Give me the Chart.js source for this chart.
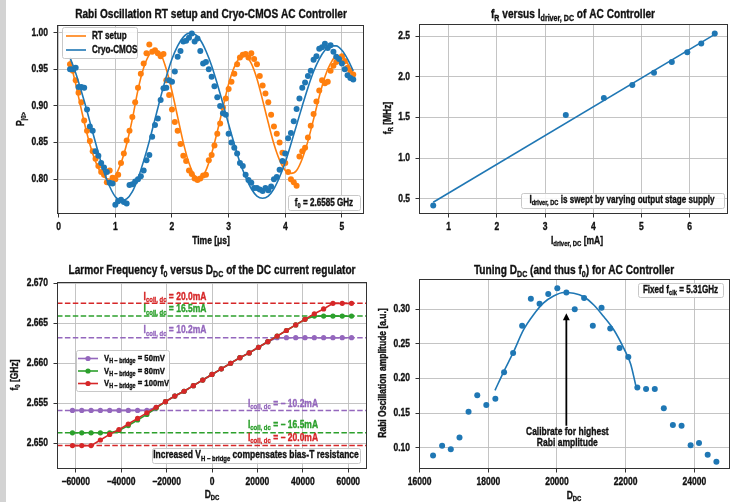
<!DOCTYPE html>
<html lang="en">
<head>
<meta charset="UTF-8" />
<title>Cryo-CMOS AC / DC controller characterisation</title>
<script src="https://cdn.jsdelivr.net/npm/chart.js"></script>
<style>
  body { margin: 0; background: #fff; }
  #wrap { position: relative; width: 733px; height: 502px; overflow: hidden; background: #fff; }
  #wrap canvas { position: absolute; left: 0; top: 0; }
  #strip { position: absolute; left: 0; top: 0; width: 6px; height: 502px; background: #d3d3d3; }
</style>
</head>
<body>
<div id="wrap">
  <div id="strip"></div>
  <canvas id="rabi" width="733" height="502"></canvas>
  <canvas id="freqR" width="733" height="502"></canvas>
  <canvas id="larmor" width="733" height="502"></canvas>
  <canvas id="tuning" width="733" height="502"></canvas>
</div>
<script>
// ---- panel 1: Rabi oscillation ----
const rabiTime = [0.20,0.25,0.30,0.35,0.40,0.45,0.50,0.55,0.60,0.65,0.70,0.75,0.80,0.85,0.90,0.95,1.00,1.05,1.10,1.15,
  1.20,1.25,1.30,1.35,1.40,1.45,1.50,1.55,1.60,1.65,1.70,1.75,1.80,1.85,1.90,1.95,2.00,2.05,2.10,2.15,
  2.20,2.25,2.30,2.35,2.40,2.45,2.50,2.55,2.60,2.65,2.70,2.75,2.80,2.85,2.90,2.95,3.00,3.05,3.10,3.15,
  3.20,3.25,3.30,3.35,3.40,3.45,3.50,3.55,3.60,3.65,3.70,3.75,3.80,3.85,3.90,3.95,4.00,4.05,4.10,4.15,
  4.20,4.25,4.30,4.35,4.40,4.45,4.50,4.55,4.60,4.65,4.70,4.75,4.80,4.85,4.90,4.95,5.00,5.05,5.10,5.15,5.20];
const rtSetup = [0.957,0.948,0.935,0.918,0.905,0.880,0.866,0.852,0.838,0.828,
  0.818,0.810,0.806,0.796,0.812,0.802,0.800,0.806,0.822,0.835,
  0.853,0.866,0.885,0.905,0.925,0.944,0.958,0.972,0.984,0.974,
  0.976,0.972,0.968,0.971,0.935,0.915,0.895,0.878,0.866,0.848,
  0.832,0.825,0.812,0.807,0.801,0.799,0.801,0.805,0.806,0.826,
  0.833,0.846,0.862,0.876,0.898,0.910,0.923,0.933,0.944,0.957,
  0.966,0.970,0.971,0.966,0.972,0.964,0.957,0.941,0.928,0.917,
  0.905,0.888,0.872,0.862,0.850,0.836,0.822,0.810,0.800,0.796,
  0.791,0.831,0.838,0.843,0.857,0.873,0.889,0.906,0.921,0.935,
  0.931,0.933,0.948,0.955,0.960,0.963,0.968,0.961,0.952,0.948,0.943];
const cryoCmos = [0.950,0.950,0.952,0.926,0.926,0.925,0.895,0.872,0.866,0.838,
  0.832,0.822,0.816,0.810,0.795,0.794,0.765,0.770,0.772,0.769,
  0.767,0.792,0.793,0.797,0.800,0.804,0.812,0.826,0.833,0.858,
  0.874,0.883,0.908,0.924,0.925,0.935,0.933,0.947,0.967,0.975,
  0.988,0.989,0.993,0.999,0.988,0.992,0.975,0.958,0.960,0.950,
  0.940,0.927,0.912,0.900,0.890,0.888,0.862,0.850,0.843,0.835,
  0.822,0.818,0.806,0.799,0.795,0.788,0.788,0.786,0.784,0.788,
  0.785,0.790,0.800,0.803,0.813,0.825,0.835,0.856,0.863,0.879,
  0.896,0.910,0.925,0.932,0.941,0.948,0.963,0.968,0.978,0.980,
  0.985,0.979,0.983,0.974,0.967,0.964,0.958,0.950,0.942,0.938,0.936];
const fitTime = [0.2,0.3,0.4,0.5,0.6,0.7,0.8,0.9,1.0,1.1,1.2,1.3,1.4,1.5,1.6,1.7,1.8,1.9,2.0,2.1,
  2.2,2.3,2.4,2.5,2.6,2.7,2.8,2.9,3.0,3.1,3.2,3.3,3.4,3.5,3.6,3.7,3.8,3.9,4.0,4.1,
  4.2,4.3,4.4,4.5,4.6,4.7,4.8,4.9,5.0,5.1,5.2];
const rtFit = [0.962,0.930,0.895,0.862,0.835,0.815,0.803,0.800,0.805,0.822,0.848,0.882,0.922,0.952,0.970,0.976,0.971,0.950,0.920,0.885,
  0.850,0.822,0.805,0.802,0.812,0.835,0.865,0.898,0.930,0.953,0.966,0.968,0.958,0.937,0.908,0.877,0.848,0.826,0.812,0.808,
  0.812,0.828,0.852,0.882,0.913,0.940,0.958,0.968,0.968,0.958,0.940];
const cryoFit = [0.966,0.945,0.920,0.893,0.864,0.836,0.810,0.790,0.776,0.771,0.773,0.783,0.801,0.825,0.852,0.882,0.912,0.940,0.964,0.982,
  0.994,0.999,0.998,0.990,0.975,0.955,0.930,0.903,0.875,0.848,0.823,0.803,0.787,0.777,0.774,0.777,0.787,0.803,0.823,0.848,
  0.874,0.900,0.925,0.947,0.964,0.976,0.982,0.982,0.976,0.964,0.948];
const rabiXTicks = [0, 1, 2, 3, 4, 5];
const rabiYTicks = [0.80, 0.85, 0.90, 0.95, 1.00];

// ---- panel 2: f_R versus I_driver ----
const iDriver = [0.68, 3.43, 4.22, 4.81, 5.26, 5.63, 5.95, 6.24, 6.52];
const fR = [0.42, 1.53, 1.74, 1.90, 2.05, 2.18, 2.30, 2.41, 2.53];
const fitI = [0.68, 6.52];
const fitFR = [0.46, 2.52];
const freqXTicks = [1, 2, 3, 4, 5, 6];
const freqYTicks = [0.5, 1.0, 1.5, 2.0, 2.5];

// ---- panel 3: Larmor frequency versus D_DC ----
const dDC = [-61440,-57344,-53248,-49152,-45056,-40960,-36864,-32768,-28672,-24576,-20480,-16384,-12288,-8192,-4096,
  0,4096,8192,12288,16384,20480,24576,28672,32768,36864,40960,45056,49152,53248,57344,61440];
const f0_100mV = [2.6497,2.6497,2.6497,2.6504,2.6511,2.6517,2.6524,2.6531,2.6538,2.6545,2.6552,2.6559,2.6565,2.6572,2.6579,
  2.6586,2.6593,2.6600,2.6607,2.6613,2.6620,2.6627,2.6634,2.6641,2.6648,2.6655,2.6662,2.6668,2.6675,2.6675,2.6675];
const f0_80mV = [2.6513,2.6513,2.6513,2.6513,2.6513,2.6516,2.6522,2.6529,2.6536,2.6544,2.6552,2.6559,2.6565,2.6572,2.6579,
  2.6586,2.6593,2.6600,2.6607,2.6613,2.6620,2.6627,2.6634,2.6641,2.6648,2.6655,2.6659,2.6659,2.6659,2.6659,2.6659];
const f0_50mV = [2.6541,2.6541,2.6541,2.6541,2.6541,2.6541,2.6541,2.6541,2.6541,2.6545,2.6552,2.6559,2.6565,2.6572,2.6579,
  2.6586,2.6593,2.6600,2.6607,2.6613,2.6620,2.6627,2.6632,2.6632,2.6632,2.6632,2.6632,2.6632,2.6632,2.6632,2.6632];
const coilLevels = [2.6675, 2.6659, 2.6632, 2.6541, 2.6513, 2.6497];
const coilLabels = ['20.0mA', '16.5mA', '10.2mA', '\u2212 10.2mA', '\u2212 16.5mA', '\u2212 20.0mA'];
const larmorXRange = [-68250, 68250];
const larmorXTicks = [-60000, -40000, -20000, 0, 20000, 40000, 60000];
const larmorYTicks = [2.650, 2.655, 2.660, 2.665, 2.670];

// ---- panel 4: tuning D_DC ----
const tuneD = [16390,16654,16907,17161,17424,17678,17941,18205,18459,18722,18985,19239,19493,19746,20010,20273,20517,
  20790,21044,21298,21551,21824,22078,22341,22595,22849,23112,23376,23629,23893,24137,24390,24644];
const rabiAmp = [0.089,0.103,0.098,0.115,0.152,0.176,0.162,0.171,0.209,0.237,0.276,0.315,0.308,0.322,0.330,0.324,0.300,
  0.316,0.276,0.302,0.272,0.244,0.231,0.187,0.185,0.185,0.157,0.133,0.132,0.104,0.107,0.090,0.080];
const tuneFitD = [18195,18439,18731,19024,19317,19610,19902,20195,20488,20780,21073,21366,21659,21951,22146,22300];
const tuneFitAmp = [0.183,0.209,0.238,0.270,0.292,0.309,0.319,0.324,0.323,0.318,0.306,0.289,0.270,0.243,0.221,0.189];
const arrowD = 20273, arrowFrom = 0.132, arrowTo = 0.294;
const tuneXTicks = [16000, 18000, 20000, 22000, 24000];
const tuneYTicks = [0.10, 0.15, 0.20, 0.25, 0.30];

// ---- styling ----
const FONT = '"Liberation Sans", Arial, sans-serif';
const SX = 0.81;              // horizontal squeeze -> narrow bold look
const BLUE = '#1f77b4', ORANGE = '#ff7f0e', GREEN = '#2ca02c', RED = '#d62728', PURPLE = '#9467bd';
const TXT = '#111';
Chart.defaults.font.family = FONT;
Chart.defaults.animation = false;

const zip = (xs, ys) => xs.map((x, i) => ({ x, y: ys[i] }));
const fmt = dec => v => (v < 0 ? '\u2212' : '') + Math.abs(v).toFixed(dec);

function scale(min, max, ticks, size, horizontal) {
  return {
    type: 'linear', min, max,
    afterBuildTicks: s => { s.ticks = ticks.map(v => ({ value: v })); },
    afterFit: s => { if (horizontal) s.height = size; else s.width = size; },
    ticks: { display: false },
    grid: { color: '#bdbdbd', lineWidth: 0.9, tickLength: 3.5, tickColor: '#333', tickWidth: 1 },
    border: { display: false }
  };
}

// text with _{subscript} markup
function parts(str) {
  const out = [], re = /_\{([^}]*)\}/g;
  let last = 0, m;
  while ((m = re.exec(str))) {
    if (m.index > last) out.push({ t: str.slice(last, m.index) });
    out.push({ t: m[1], sub: true });
    last = re.lastIndex;
  }
  if (last < str.length) out.push({ t: str.slice(last) });
  return out;
}
function text(ctx, str, x, y, size, color, align, rot) {
  const ps = parts(str);
  ctx.save();
  ctx.translate(x, y);
  if (rot) ctx.rotate(rot);
  ctx.scale(SX, 1);
  ctx.fillStyle = color || TXT;
  ctx.strokeStyle = color || TXT;
  ctx.lineWidth = 0.35;
  ctx.textBaseline = 'middle';
  ctx.textAlign = 'left';
  let w = 0;
  ps.forEach(p => { ctx.font = `bold ${p.sub ? size * 0.7 : size}px ${FONT}`; w += ctx.measureText(p.t).width; });
  let cx = align === 'left' ? 0 : align === 'right' ? -w : -w / 2;
  ps.forEach(p => {
    ctx.font = `bold ${p.sub ? size * 0.7 : size}px ${FONT}`;
    const dy = p.sub ? size * 0.3 : 0;
    ctx.fillText(p.t, cx, dy);
    ctx.strokeText(p.t, cx, dy);
    cx += ctx.measureText(p.t).width;
  });
  ctx.restore();
}
function box(ctx, x, y, w, h) {
  ctx.save();
  ctx.fillStyle = 'rgba(255,255,255,0.85)';
  ctx.strokeStyle = '#c8c8c8';
  ctx.lineWidth = 1;
  ctx.beginPath();
  if (ctx.roundRect) ctx.roundRect(x + 0.5, y + 0.5, w, h, 2); else ctx.rect(x + 0.5, y + 0.5, w, h);
  ctx.fill(); ctx.stroke();
  ctx.restore();
}
function legendLine(ctx, x, y, color, marker) {
  ctx.save();
  ctx.strokeStyle = color; ctx.lineWidth = 1.6;
  ctx.beginPath(); ctx.moveTo(x, y); ctx.lineTo(x + 20, y); ctx.stroke();
  if (marker) { ctx.fillStyle = color; ctx.beginPath(); ctx.arc(x + 10, y, 2.6, 0, Math.PI * 2); ctx.fill(); }
  ctx.restore();
}
function frame(ctx, a) {
  ctx.save();
  ctx.strokeStyle = '#333'; ctx.lineWidth = 1;
  ctx.strokeRect(Math.round(a.left) + 0.5, Math.round(a.top) + 0.5, Math.round(a.right - a.left) - 1, Math.round(a.bottom - a.top) - 1);
  ctx.restore();
}
// tick labels drawn through the chart's own scales
function tickLabels(ctx, chart, xt, xdec, yt, ydec) {
  const a = chart.chartArea, xs = chart.scales.x, ys = chart.scales.y;
  xt.forEach(v => text(ctx, fmt(xdec)(v), xs.getPixelForValue(v), a.bottom + 13.5, 10.5));
  yt.forEach(v => text(ctx, fmt(ydec)(v), a.left - 9, ys.getPixelForValue(v), 10.5, TXT, 'right'));
}

// place the plot area [L,T,R,B] in page pixels; y axis 40 px wide, x axis 18 px tall
function panelOptions(area, xs, ys) {
  const [L, T, R, B] = area;
  return {
    responsive: false, devicePixelRatio: 1, animation: false,
    layout: { autoPadding: false, padding: { left: L - 40, top: T, right: 733 - R, bottom: 502 - B - 18 } },
    plugins: { legend: { display: false }, title: { display: false }, tooltip: { enabled: false } },
    scales: { x: xs, y: ys }
  };
}
function decoPlugin(fn) {
  return { id: 'deco', afterDraw(chart) { const ctx = chart.ctx; frame(ctx, chart.chartArea); fn(ctx, chart); } };
}

// ---- panel 1 ----
new Chart(document.getElementById('rabi'), {
  type: 'scatter',
  data: { datasets: [
    { data: zip(fitTime, cryoFit), showLine: true, borderColor: BLUE, borderWidth: 1.6, pointRadius: 0, cubicInterpolationMode: 'monotone' },
    { data: zip(rabiTime, cryoCmos), backgroundColor: BLUE, borderWidth: 0, pointRadius: 3 },
    { data: zip(fitTime, rtFit), showLine: true, borderColor: ORANGE, borderWidth: 1.6, pointRadius: 0, cubicInterpolationMode: 'monotone' },
    { data: zip(rabiTime, rtSetup), backgroundColor: ORANGE, borderWidth: 0, pointRadius: 3 }
  ] },
  options: panelOptions([57, 25, 364, 214], scale(-0.03, 5.39, rabiXTicks, 18, true), scale(0.7525, 1.0105, rabiYTicks, 40, false)),
  plugins: [decoPlugin((ctx, chart) => {
    tickLabels(ctx, chart, rabiXTicks, 0, rabiYTicks, 2);
    text(ctx, 'Rabi Oscillation RT setup and Cryo-CMOS AC Controller', 211, 15, 12.5);
    text(ctx, 'Time [\u03bcs]', 211, 241, 10.5);
    text(ctx, 'P_{|0>}', 21, 119, 10.5, TXT, 'center', -Math.PI / 2);
    box(ctx, 62, 27, 75, 31);
    legendLine(ctx, 66, 36, ORANGE, false);
    text(ctx, 'RT setup', 92, 36, 10, TXT, 'left');
    legendLine(ctx, 66, 50, BLUE, false);
    text(ctx, 'Cryo-CMOS', 92, 50, 10, TXT, 'left');
    box(ctx, 288, 195, 72, 15);
    text(ctx, 'f_{0} = 2.6585 GHz', 324, 203, 10);
  })]
});

// ---- panel 2 ----
new Chart(document.getElementById('freqR'), {
  type: 'scatter',
  data: { datasets: [
    { data: zip(fitI, fitFR), showLine: true, borderColor: BLUE, borderWidth: 1.6, pointRadius: 0 },
    { data: zip(iDriver, fR), backgroundColor: BLUE, borderWidth: 0, pointRadius: 3 }
  ] },
  options: panelOptions([419, 24, 728, 214], scale(0.385, 6.795, freqXTicks, 18, true), scale(0.315, 2.648, freqYTicks, 40, false)),
  plugins: [decoPlugin((ctx, chart) => {
    tickLabels(ctx, chart, freqXTicks, 0, freqYTicks, 1);
    text(ctx, 'f_{R} versus I_{driver, DC} of AC Controller', 573, 15, 12.5);
    text(ctx, 'I_{driver, DC} [mA]', 577, 241, 10.5);
    text(ctx, 'f_{R} [MHz]', 388, 118, 10.5, TXT, 'center', -Math.PI / 2);
    box(ctx, 521, 193, 203, 15);
    text(ctx, 'I_{driver, DC} is swept by varying output stage supply', 622, 200, 10);
  })]
});

// ---- panel 3 ----
const coilColors = [RED, GREEN, PURPLE, PURPLE, GREEN, RED];
const coilDatasets = coilLevels.map((lv, i) => ({
  data: zip(larmorXRange, [lv, lv]), showLine: true, borderColor: coilColors[i], borderWidth: 1.5,
  borderDash: [5.5, 2.4], pointRadius: 0
}));
const seriesStyle = c => ({ showLine: true, borderColor: c, backgroundColor: c, borderWidth: 1.6, pointRadius: 2.6, pointBorderWidth: 0 });
new Chart(document.getElementById('larmor'), {
  type: 'scatter',
  data: { datasets: [
    Object.assign({ data: zip(dDC, f0_100mV) }, seriesStyle(RED)),
    Object.assign({ data: zip(dDC, f0_80mV) }, seriesStyle(GREEN)),
    Object.assign({ data: zip(dDC, f0_50mV) }, seriesStyle(PURPLE)),
    ...coilDatasets
  ] },
  options: panelOptions([57, 282, 367, 469], scale(larmorXRange[0], larmorXRange[1], larmorXTicks, 18, true), scale(2.64677, 2.67017, larmorYTicks, 40, false)),
  plugins: [decoPlugin((ctx, chart) => {
    tickLabels(ctx, chart, larmorXTicks, 0, larmorYTicks, 3);
    text(ctx, 'Larmor Frequency f_{0} versus D_{DC} of the DC current regulator', 212, 271, 12.5);
    text(ctx, 'D_{DC}', 212, 495, 10.5);
    text(ctx, 'f_{0} [GHz]', 15, 375, 10.5, TXT, 'center', -Math.PI / 2);
    const pos = [[175, 297], [175, 309.5], [175, 330.5], [283, 404], [283, 425], [283, 438]];
    coilLabels.forEach((lb, i) => text(ctx, 'I_{coil, dc} = ' + lb, pos[i][0], pos[i][1], 10.5, coilColors[i]));
    box(ctx, 76, 350, 93, 41);
    [[PURPLE, '50mV'], [GREEN, '80mV'], [RED, '100mV']].forEach(([c, v], i) => {
      legendLine(ctx, 78, 358.5 + i * 12.5, c, true);
      text(ctx, 'V_{H \u2212 bridge} = ' + v, 104, 358.5 + i * 12.5, 9.5, TXT, 'left');
    });
    box(ctx, 152, 448, 208, 15);
    text(ctx, 'Increased V_{H \u2212 bridge} compensates bias-T resistance', 256, 455.5, 10.5);
  })]
});

// ---- panel 4 ----
new Chart(document.getElementById('tuning'), {
  type: 'scatter',
  data: { datasets: [
    { data: zip(tuneFitD, tuneFitAmp), showLine: true, borderColor: BLUE, borderWidth: 1.6, pointRadius: 0, cubicInterpolationMode: 'monotone' },
    { data: zip(tuneD, rabiAmp), backgroundColor: BLUE, borderWidth: 0, pointRadius: 3 }
  ] },
  options: panelOptions([419, 279, 730, 469], scale(15981, 25040, tuneXTicks, 18, true), scale(0.0696, 0.3435, tuneYTicks, 40, false)),
  plugins: [decoPlugin((ctx, chart) => {
    tickLabels(ctx, chart, tuneXTicks, 0, tuneYTicks, 2);
    const xs = chart.scales.x, ys = chart.scales.y;
    text(ctx, 'Tuning D_{DC} (and thus f_{0}) for AC Controller', 574, 271, 12.5);
    text(ctx, 'D_{DC}', 574, 496, 10.5);
    text(ctx, 'Rabi Oscillation amplitude [a.u.]', 383, 373, 10.5, TXT, 'center', -Math.PI / 2);
    box(ctx, 638, 283, 85, 14);
    text(ctx, 'Fixed f_{clk} = 5.31GHz', 680.5, 290, 10);
    // arrow
    const ax = xs.getPixelForValue(arrowD), y0 = ys.getPixelForValue(arrowFrom), y1 = ys.getPixelForValue(arrowTo);
    ctx.save();
    ctx.strokeStyle = '#000'; ctx.fillStyle = '#000'; ctx.lineWidth = 1.8;
    ctx.beginPath(); ctx.moveTo(ax, y0); ctx.lineTo(ax, y1 + 6); ctx.stroke();
    ctx.beginPath(); ctx.moveTo(ax, y1); ctx.lineTo(ax - 3.5, y1 + 7); ctx.lineTo(ax + 3.5, y1 + 7); ctx.closePath(); ctx.fill();
    ctx.restore();
    text(ctx, 'Calibrate for highest', ax + 1, 432.5, 10.5);
    text(ctx, 'Rabi amplitude', ax + 1, 443.5, 10.5);
  })]
});
</script>
</body>
</html>
